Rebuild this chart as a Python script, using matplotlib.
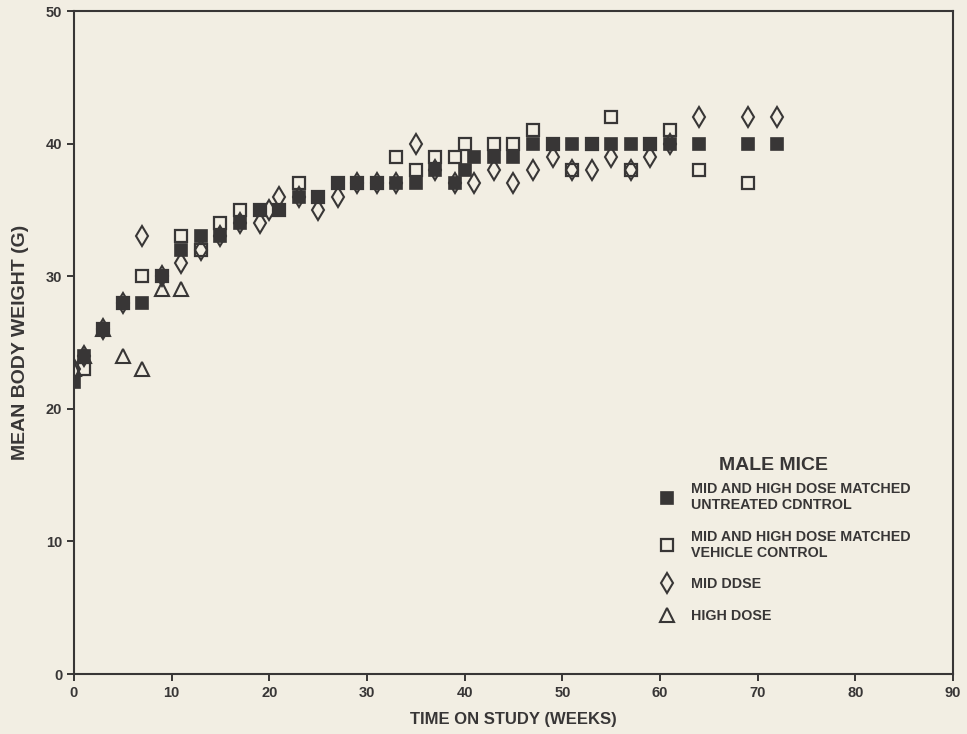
import matplotlib
matplotlib.use('Agg')
from matplotlib import pyplot as plt

# weeks and mean body weight (g) for each group
weeks_untreated = [0, 1, 3, 5, 7, 9, 11, 13, 15, 17, 19, 21, 23, 25, 27, 29, 31, 33, 35, 37,
                   39, 40, 41, 43, 45, 47, 49, 51, 53, 55, 57, 59, 61, 64, 69, 72]
wt_untreated = [22, 24, 26, 28, 28, 30, 32, 33, 33, 34, 35, 35, 36, 36, 37, 37, 37, 37, 37, 38,
                37, 38, 39, 39, 39, 40, 40, 40, 40, 40, 40, 40, 40, 40, 40, 40]

weeks_vehicle = [1, 3, 5, 7, 9, 11, 13, 15, 17, 19, 21, 23, 25, 27, 29, 31, 33, 35, 37,
                 39, 40, 43, 45, 47, 49, 51, 53, 55, 57, 59, 61, 64, 69]
wt_vehicle = [23, 26, 28, 30, 30, 33, 32, 34, 35, 35, 35, 37, 36, 37, 37, 37, 39, 38, 39,
              39, 40, 40, 40, 41, 40, 38, 40, 42, 38, 40, 41, 38, 37]

weeks_mid = [0, 1, 3, 5, 7, 9, 11, 13, 15, 17, 19, 20, 21, 23, 25, 27, 29, 31, 33, 35, 37,
             39, 41, 43, 45, 47, 49, 51, 53, 55, 57, 59, 61, 64, 69, 72]
wt_mid = [23, 24, 26, 28, 33, 30, 31, 32, 33, 34, 34, 35, 36, 36, 35, 36, 37, 37, 37, 40, 38,
          37, 37, 38, 37, 38, 39, 38, 38, 39, 38, 39, 40, 42, 42, 42]

weeks_high = [0, 1, 3, 5, 7, 9, 11]
wt_high = [23, 24, 26, 24, 23, 29, 29]

labels = ['MID AND HIGH DOSE MATCHED\nUNTREATED CDNTROL',
          'MID AND HIGH DOSE MATCHED\nVEHICLE CONTROL',
          'MID DDSE',
          'HIGH DOSE']

bg = '#f2eee3'
ink = '#383636'
plt.rcParams['font.family'] = ['Liberation Sans', 'DejaVu Sans']

fig = plt.figure(figsize=(9.67, 7.34), dpi=100, facecolor=bg)
ax = fig.add_axes([0.0765, 0.0817, 0.909, 0.9033])
ax.set_facecolor(bg)

h_high, = ax.plot(weeks_high, wt_high, ls='none', marker='^', ms=10, mfc='none',
                  mec=ink, mew=1.5, zorder=2)
h_mid, = ax.plot(weeks_mid, wt_mid, ls='none', marker='d', ms=10.5, mfc='none',
                 mec=ink, mew=1.5, zorder=3)
h_veh, = ax.plot(weeks_vehicle, wt_vehicle, ls='none', marker='s', ms=8.8, mfc='none',
                 mec=ink, mew=1.6, zorder=4)
h_unt, = ax.plot(weeks_untreated, wt_untreated, ls='none', marker='s', ms=8.8, mfc=ink,
                 mec=ink, mew=1.2, zorder=5)

ax.set_xlim(0, 90)
ax.set_ylim(0, 50)
ax.set_xticks(range(0, 91, 10))
ax.set_yticks(range(0, 51, 10))
for s in ax.spines.values():
    s.set_color(ink)
    s.set_linewidth(1.5)
ax.tick_params(direction='out', length=5, width=1.4, color=ink, labelcolor=ink,
               labelsize=10.5)
for t in ax.get_xticklabels() + ax.get_yticklabels():
    t.set_fontweight('bold')

ax.set_xlabel('TIME ON STUDY (WEEKS)', fontsize=12, fontweight='bold', color=ink, labelpad=9)
ax.set_ylabel('MEAN BODY WEIGHT (G)', fontsize=14, fontweight='bold', color=ink, labelpad=12)

ax.text(0.796, 0.315, 'MALE MICE', transform=ax.transAxes, ha='center', va='center',
        fontsize=14, fontweight='bold', color=ink)
leg = ax.legend([h_unt, h_veh, h_mid, h_high], labels,
                loc='upper left', bbox_to_anchor=(0.652, 0.309), frameon=False,
                handlelength=1.0, handletextpad=1.2, labelspacing=1.22,
                prop={'weight': 'bold', 'size': 10.3})
for t in leg.get_texts():
    t.set_color(ink)
    t.set_linespacing(1.2)

fig.savefig('out.png', dpi=100, facecolor=bg)
